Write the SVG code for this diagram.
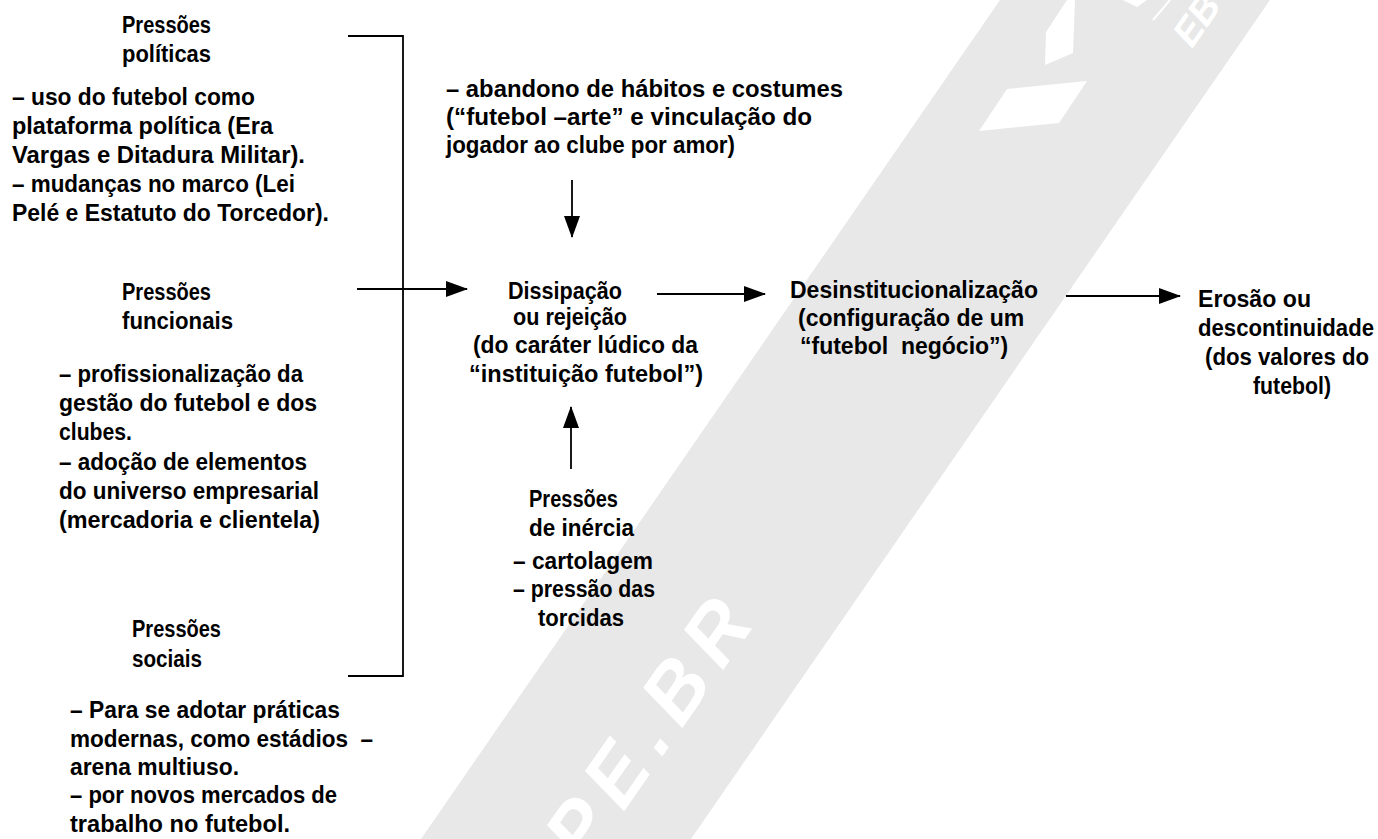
<svg xmlns="http://www.w3.org/2000/svg" width="1378" height="839" viewBox="0 0 1378 839">
<style>
.t{font-family:"Liberation Sans",Arial,sans-serif;font-weight:bold;font-size:23px;fill:#000}
.wm{font-family:"Liberation Sans",Arial,sans-serif;font-weight:bold;font-style:italic;fill:#fff}
.ln{stroke:#000;stroke-width:1.8;fill:none}
</style>
<defs>
<marker id="ah" markerUnits="userSpaceOnUse" markerWidth="22" markerHeight="16" refX="21" refY="8" orient="auto">
<path d="M0,0 L22,8 L0,16 z" fill="#000"/>
</marker>
</defs>
<rect width="1378" height="839" fill="#fff"/>
<g id="watermark">
<polygon points="1000,0 1270,0 691,839 421,839" fill="#e8e8e8"/>
<polygon points="1046,32 1067,0 1075,0 1073,53 1045,65" fill="#fff"/>
<polygon points="1007,89 1087,81 1059,123 979,131" fill="#fff"/>
<polygon points="1123,0 1137,7 1147,0" fill="#fff"/>
<line x1="1153" y1="20" x2="1170" y2="0" stroke="#fff" stroke-width="2"/>
<text class="wm" x="1192" y="49" font-size="38" transform="rotate(-55 1192 49)">EB</text>
<text class="wm" x="674" y="740" font-size="80" letter-spacing="13" text-anchor="middle" transform="rotate(-55 674 740)">PE.BR</text>
</g>
<g id="connectors">
<polyline class="ln" points="348,36 403,36 403,676 348,676"/>
<line class="ln" x1="357" y1="289" x2="467" y2="289" marker-end="url(#ah)"/>
<line class="ln" x1="572" y1="180" x2="572" y2="237" marker-end="url(#ah)"/>
<line class="ln" x1="571" y1="469" x2="571" y2="407" marker-end="url(#ah)"/>
<line class="ln" x1="657" y1="294" x2="765" y2="294" marker-end="url(#ah)"/>
<line class="ln" x1="1066" y1="296" x2="1180" y2="296" marker-end="url(#ah)"/>
</g>
<g id="pressoes-politicas">
<text class="t" x="122" y="33" textLength="89" lengthAdjust="spacingAndGlyphs">Pressões</text>
<text class="t" x="122" y="62" textLength="89" lengthAdjust="spacingAndGlyphs">políticas</text>
<text class="t" x="12" y="105" textLength="243" lengthAdjust="spacingAndGlyphs">– uso do futebol como</text>
<text class="t" x="12" y="134" textLength="261" lengthAdjust="spacingAndGlyphs">plataforma política (Era</text>
<text class="t" x="12" y="163" textLength="293" lengthAdjust="spacingAndGlyphs">Vargas e Ditadura Militar).</text>
<text class="t" x="12" y="192" textLength="283" lengthAdjust="spacingAndGlyphs">– mudanças no marco (Lei</text>
<text class="t" x="12" y="221" textLength="317" lengthAdjust="spacingAndGlyphs">Pelé e Estatuto do Torcedor).</text>
</g>
<g id="pressoes-funcionais">
<text class="t" x="122" y="300" textLength="89" lengthAdjust="spacingAndGlyphs">Pressões</text>
<text class="t" x="122" y="329" textLength="111" lengthAdjust="spacingAndGlyphs">funcionais</text>
<text class="t" x="59" y="382" textLength="244" lengthAdjust="spacingAndGlyphs">– profissionalização da</text>
<text class="t" x="59" y="411" textLength="258" lengthAdjust="spacingAndGlyphs">gestão do futebol e dos</text>
<text class="t" x="59" y="440" textLength="73" lengthAdjust="spacingAndGlyphs">clubes.</text>
<text class="t" x="59" y="470" textLength="248" lengthAdjust="spacingAndGlyphs">– adoção de elementos</text>
<text class="t" x="59" y="499" textLength="260" lengthAdjust="spacingAndGlyphs">do universo empresarial</text>
<text class="t" x="59" y="528" textLength="261" lengthAdjust="spacingAndGlyphs">(mercadoria e clientela)</text>
</g>
<g id="pressoes-sociais">
<text class="t" x="132" y="637" textLength="89" lengthAdjust="spacingAndGlyphs">Pressões</text>
<text class="t" x="132" y="667" textLength="70" lengthAdjust="spacingAndGlyphs">sociais</text>
<text class="t" x="70" y="718" textLength="270" lengthAdjust="spacingAndGlyphs">– Para se adotar práticas</text>
<text class="t" x="70" y="747" textLength="303" lengthAdjust="spacingAndGlyphs" xml:space="preserve">modernas, como estádios  –</text>
<text class="t" x="70" y="775" textLength="169" lengthAdjust="spacingAndGlyphs">arena multiuso.</text>
<text class="t" x="70" y="803" textLength="267" lengthAdjust="spacingAndGlyphs">– por novos mercados de</text>
<text class="t" x="70" y="832" textLength="220" lengthAdjust="spacingAndGlyphs">trabalho no futebol.</text>
</g>
<g id="abandono">
<text class="t" x="446" y="97" textLength="397" lengthAdjust="spacingAndGlyphs">– abandono de hábitos e costumes</text>
<text class="t" x="446" y="125" textLength="366" lengthAdjust="spacingAndGlyphs">(“futebol –arte” e vinculação do</text>
<text class="t" x="446" y="153" textLength="289" lengthAdjust="spacingAndGlyphs">jogador ao clube por amor)</text>
</g>
<g id="dissipacao">
<text class="t" x="508" y="299" textLength="114" lengthAdjust="spacingAndGlyphs">Dissipação</text>
<text class="t" x="513" y="325" textLength="114" lengthAdjust="spacingAndGlyphs">ou rejeição</text>
<text class="t" x="473" y="353" textLength="225" lengthAdjust="spacingAndGlyphs">(do caráter lúdico da</text>
<text class="t" x="469" y="382" textLength="234" lengthAdjust="spacingAndGlyphs">“instituição futebol”)</text>
</g>
<g id="pressoes-inercia">
<text class="t" x="529" y="507" textLength="89" lengthAdjust="spacingAndGlyphs">Pressões</text>
<text class="t" x="529" y="536" textLength="105" lengthAdjust="spacingAndGlyphs">de inércia</text>
<text class="t" x="513" y="569" textLength="140" lengthAdjust="spacingAndGlyphs">– cartolagem</text>
<text class="t" x="513" y="597" textLength="142" lengthAdjust="spacingAndGlyphs">– pressão das</text>
<text class="t" x="538" y="626" textLength="86" lengthAdjust="spacingAndGlyphs">torcidas</text>
</g>
<g id="desinstitucionalizacao">
<text class="t" x="790" y="298">Desinstitucionalização</text>
<text class="t" x="798" y="326">(configuração de um</text>
<text class="t" x="800" y="354" xml:space="preserve">“futebol  negócio”)</text>
</g>
<g id="erosao">
<text class="t" x="1198" y="307" textLength="113" lengthAdjust="spacingAndGlyphs">Erosão ou</text>
<text class="t" x="1198" y="336" textLength="176" lengthAdjust="spacingAndGlyphs">descontinuidade</text>
<text class="t" x="1205" y="365" textLength="164" lengthAdjust="spacingAndGlyphs">(dos valores do</text>
<text class="t" x="1253" y="394" textLength="78" lengthAdjust="spacingAndGlyphs">futebol)</text>
</g>
</svg>
